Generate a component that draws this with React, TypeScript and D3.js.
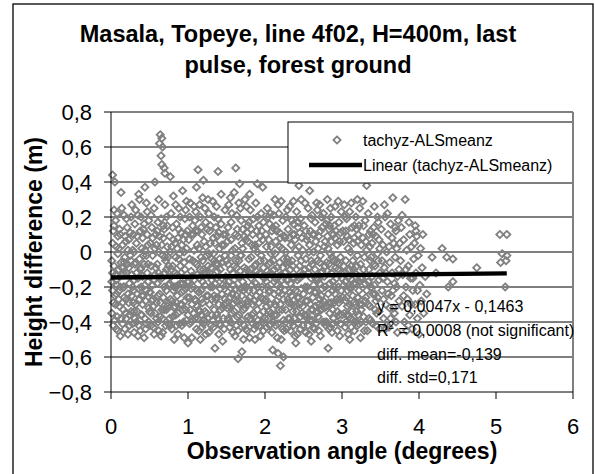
import React from "react";
import * as d3 from "d3";

const title = ["Masala, Topeye, line 4f02, H=400m, last", "pulse, forest ground"];
const xTitle = "Observation angle (degrees)";
const yTitle = "Height difference (m)";
const xTicks = [0, 1, 2, 3, 4, 5, 6];
const yTicks = [0.8, 0.6, 0.4, 0.2, 0, -0.2, -0.4, -0.6, -0.8];
const seriesName = "tachyz-ALSmeanz";
const trendName = "Linear (tachyz-ALSmeanz)";
const trendSlope = 0.0047;
const trendIntercept = -0.1463;
const annotations = [
  "y = 0,0047x - 0,1463",
  "R2 = 0,0008 (not significant)",
  "diff. mean=-0,139",
  "diff. std=0,171",
];

// [observation angle (deg), height difference (m)] — scattered outer points
const observationsOuter: [number, number][] = [
  [0.02,0.44],[0.05,0.40],[0.13,0.34],[0.01,-0.17],[0.03,-0.29],[0.02,0.05],[0.04,-0.08],[0.06,0.18],[0.08,-0.37],[0.09,-0.45],[0.11,-0.22],[0.12,0.10],[0.14,-0.13],[0.15,-0.41],[0.17,0.21],[0.18,-0.03],[0.2,-0.27],[0.21,0.14],[0.22,-0.47],[0.24,-0.18],[0.03,0.12],[0.07,-0.24],[0.1,0.02],[0.16,-0.33],[0.19,0.06],[0.23,-0.09],[0.05,-0.39],[0.13,-0.06],[0.2,0.19],[0.08,0.22],[0.11,-0.31],[0.18,-0.44],[0.01,-0.35],[0.06,-0.13],[0.14,0.25],[0.22,0.01],[0.04,0.24],[0.16,-0.2],[0.24,-0.36],[0.09,0.09],[0.12,-0.48],[0.2,-0.12],[0.02,-0.22],[0.07,0.03],[0.17,-0.26],[0.25,0.11],
  [0.26,-0.05],[0.27,0.27],[0.28,-0.41],[0.3,-0.16],[0.31,0.16],[0.32,-0.3],[0.33,0.05],[0.35,-0.48],[0.36,-0.21],[0.37,0.3],[0.38,-0.1],[0.39,0.2],[0.4,-0.36],[0.41,0.08],[0.42,-0.25],[0.44,0.37],[0.45,-0.44],[0.46,-0.02],[0.47,0.23],[0.48,-0.17],[0.49,-0.32],[0.27,-0.25],[0.29,0.1],[0.31,-0.38],[0.33,-0.12],[0.35,0.21],[0.36,0.33],[0.38,-0.45],[0.4,0.02],[0.42,0.13],[0.43,-0.07],[0.45,-0.28],[0.47,0.1],[0.49,0.18],[0.26,0.2],[0.3,-0.46],[0.34,-0.34],[0.37,-0.27],[0.41,-0.14],[0.44,-0.38],[0.46,0.28],[0.48,-0.07],[0.28,0.01],[0.32,0.24],[0.39,-0.2],[0.43,-0.49],[0.5,-0.23],
  [0.57,0.40],[0.64,0.67],[0.66,0.65],[0.63,0.62],[0.67,0.6],[0.65,0.55],[0.66,0.5],[0.69,0.48],[0.7,0.45],[0.51,0.05],[0.52,-0.35],[0.53,0.14],[0.54,-0.19],[0.55,-0.43],[0.56,0.25],[0.58,-0.09],[0.59,-0.29],[0.6,0.12],[0.61,-0.4],[0.62,0.0],[0.63,-0.24],[0.65,0.19],[0.66,-0.15],[0.67,-0.46],[0.68,0.08],[0.69,-0.33],[0.7,0.27],[0.71,-0.05],[0.72,-0.22],[0.73,0.15],[0.74,-0.41],[0.52,0.21],[0.54,-0.02],[0.56,-0.47],[0.58,0.1],[0.6,-0.18],[0.62,0.3],[0.64,-0.37],[0.66,0.04],[0.68,-0.26],[0.7,-0.12],[0.72,0.2],[0.74,-0.03],[0.53,-0.28],[0.57,-0.13],[0.61,0.17],[0.65,-0.48],[0.69,0.13],[0.73,-0.31],[0.75,-0.19],
  [0.77,0.43],[0.76,0.09],[0.77,-0.27],[0.78,0.22],[0.79,-0.44],[0.8,-0.08],[0.81,0.32],[0.82,-0.2],[0.83,0.05],[0.84,-0.36],[0.85,0.16],[0.86,-0.13],[0.87,-0.47],[0.88,0.25],[0.89,-0.01],[0.9,-0.3],[0.91,0.11],[0.92,-0.23],[0.93,0.35],[0.94,-0.4],[0.95,-0.06],[0.96,0.19],[0.97,-0.33],[0.98,0.02],[0.99,-0.17],[0.76,-0.38],[0.78,-0.14],[0.8,0.14],[0.82,-0.5],[0.84,0.27],[0.86,-0.25],[0.88,-0.04],[0.9,0.2],[0.92,-0.42],[0.94,0.07],[0.96,-0.28],[0.98,0.29],[0.79,0.03],[0.83,-0.31],[0.87,0.08],[0.91,-0.12],[0.95,-0.49],[0.99,0.12],[0.81,-0.22],[0.85,-0.42],[0.93,-0.18],[0.97,0.24],
  [1.13,0.47],[1.11,0.37],[1.2,0.41],[1.0,-0.52],[1.01,0.07],[1.02,-0.26],[1.03,0.28],[1.04,-0.11],[1.05,-0.49],[1.06,0.15],[1.07,-0.2],[1.08,0.01],[1.09,-0.38],[1.1,0.23],[1.11,-0.07],[1.12,-0.31],[1.13,0.12],[1.14,-0.45],[1.15,-0.15],[1.16,0.2],[1.17,-0.03],[1.18,-0.27],[1.19,0.31],[1.2,-0.41],[1.21,0.06],[1.22,-0.19],[1.23,0.17],[1.24,-0.35],[1.02,0.2],[1.04,-0.4],[1.06,-0.05],[1.08,0.26],[1.1,-0.28],[1.12,0.04],[1.14,-0.23],[1.16,-0.5],[1.18,0.1],[1.2,-0.1],[1.22,0.25],[1.24,-0.02],[1.03,-0.33],[1.07,0.1],[1.11,-0.44],[1.15,0.27],[1.19,-0.17],[1.23,-0.47],[1.05,-0.14],[1.09,0.18],[1.17,-0.36],[1.25,0.13],
  [1.39,0.46],[1.26,-0.08],[1.27,0.22],[1.28,-0.3],[1.29,0.05],[1.3,-0.42],[1.31,-0.16],[1.32,0.29],[1.33,-0.01],[1.34,-0.25],[1.35,-0.55],[1.36,0.14],[1.37,-0.36],[1.38,-0.11],[1.39,0.19],[1.4,-0.47],[1.41,0.02],[1.42,-0.21],[1.43,0.33],[1.44,-0.06],[1.45,-0.32],[1.46,0.1],[1.47,-0.44],[1.48,0.24],[1.49,-0.14],[1.27,-0.46],[1.29,0.15],[1.31,-0.27],[1.33,0.08],[1.35,-0.18],[1.37,0.26],[1.39,-0.38],[1.41,-0.04],[1.43,0.16],[1.45,-0.51],[1.47,0.04],[1.49,-0.29],[1.28,-0.12],[1.32,-0.39],[1.36,-0.07],[1.4,0.11],[1.44,-0.24],[1.48,-0.02],[1.26,0.3],[1.34,0.2],[1.42,-0.33],[1.5,-0.19],
  [1.62,0.48],[1.67,0.39],[1.65,-0.61],[1.7,-0.57],[1.51,0.06],[1.52,-0.23],[1.53,0.27],[1.54,-0.43],[1.55,-0.1],[1.56,0.17],[1.57,-0.35],[1.58,0.01],[1.59,-0.19],[1.6,0.34],[1.61,-0.48],[1.62,-0.05],[1.63,0.21],[1.64,-0.28],[1.65,0.09],[1.66,-0.14],[1.67,-0.4],[1.68,0.25],[1.69,-0.02],[1.7,-0.25],[1.71,0.13],[1.72,-0.5],[1.73,-0.09],[1.74,0.3],[1.52,0.14],[1.54,-0.31],[1.56,-0.02],[1.58,-0.46],[1.6,-0.16],[1.62,0.1],[1.64,-0.37],[1.66,0.28],[1.68,-0.21],[1.7,0.05],[1.72,-0.33],[1.74,-0.12],[1.53,-0.39],[1.57,0.22],[1.61,-0.27],[1.65,-0.45],[1.69,0.18],[1.73,-0.42],[1.55,0.31],[1.63,-0.09],[1.71,-0.17],[1.75,0.07],
  [1.9,0.39],[1.97,0.37],[1.8,0.33],[1.76,-0.2],[1.77,0.11],[1.78,-0.37],[1.79,-0.04],[1.8,-0.49],[1.81,0.24],[1.82,-0.15],[1.83,0.04],[1.84,-0.3],[1.85,0.19],[1.86,-0.44],[1.87,-0.08],[1.88,0.28],[1.89,-0.25],[1.9,0.0],[1.91,-0.39],[1.92,0.15],[1.93,-0.12],[1.94,-0.48],[1.95,0.22],[1.96,-0.2],[1.97,0.07],[1.98,-0.34],[1.99,-0.05],[1.76,0.26],[1.78,0.06],[1.8,-0.26],[1.82,0.13],[1.84,-0.41],[1.86,0.02],[1.88,-0.18],[1.9,0.2],[1.92,-0.29],[1.94,0.09],[1.96,-0.4],[1.98,0.17],[1.77,-0.45],[1.81,-0.1],[1.85,-0.35],[1.89,0.12],[1.93,-0.23],[1.97,-0.14],[1.79,0.17],[1.87,-0.5],[1.95,-0.02],[2.0,-0.28],
  [2.2,-0.65],[2.1,-0.56],[2.24,-0.6],[2.17,-0.58],[2.13,0.3],[2.21,0.29],[2.01,0.1],[2.02,-0.17],[2.03,0.25],[2.04,-0.38],[2.05,-0.07],[2.06,0.16],[2.07,-0.3],[2.08,0.03],[2.09,-0.46],[2.1,-0.13],[2.11,0.21],[2.12,-0.24],[2.13,-0.01],[2.14,-0.42],[2.15,0.12],[2.16,-0.19],[2.17,0.27],[2.18,-0.33],[2.19,-0.06],[2.2,0.08],[2.21,-0.5],[2.22,-0.16],[2.23,0.18],[2.24,-0.27],[2.02,-0.43],[2.04,0.2],[2.06,-0.22],[2.08,-0.01],[2.1,0.14],[2.12,-0.36],[2.14,0.06],[2.16,-0.49],[2.18,0.22],[2.2,-0.2],[2.22,0.02],[2.24,-0.39],[2.03,-0.11],[2.07,0.22],[2.11,-0.4],[2.15,-0.28],[2.19,0.11],[2.23,-0.09],[2.05,-0.34],[2.13,-0.15],[2.25,0.09],
  [2.4,-0.52],[2.37,0.29],[2.44,0.38],[2.26,-0.12],[2.27,0.2],[2.28,-0.44],[2.29,-0.04],[2.3,0.13],[2.31,-0.29],[2.32,0.26],[2.33,-0.18],[2.34,0.04],[2.35,-0.4],[2.36,-0.08],[2.37,0.16],[2.38,-0.31],[2.39,0.07],[2.4,-0.22],[2.41,0.23],[2.42,-0.47],[2.43,-0.02],[2.44,-0.26],[2.45,0.11],[2.46,-0.37],[2.47,0.3],[2.48,-0.13],[2.49,0.01],[2.27,-0.33],[2.29,0.24],[2.31,-0.06],[2.33,-0.45],[2.35,0.18],[2.37,-0.21],[2.39,-0.48],[2.41,-0.1],[2.43,0.14],[2.45,-0.3],[2.47,-0.05],[2.49,-0.42],[2.26,0.08],[2.3,-0.38],[2.34,-0.25],[2.38,0.1],[2.42,-0.16],[2.46,0.19],[2.5,-0.24],[2.28,-0.16],[2.36,-0.34],[2.44,0.03],
  [2.58,0.35],[2.63,0.42],[2.6,-0.51],[2.51,0.15],[2.52,-0.2],[2.53,-0.46],[2.54,0.07],[2.55,-0.28],[2.56,0.25],[2.57,-0.09],[2.58,-0.39],[2.59,0.12],[2.6,-0.15],[2.61,0.21],[2.62,-0.33],[2.63,0.0],[2.64,-0.44],[2.65,0.17],[2.66,-0.23],[2.67,0.28],[2.68,-0.05],[2.69,-0.37],[2.7,0.09],[2.71,-0.18],[2.72,-0.48],[2.73,0.2],[2.74,-0.11],[2.52,0.28],[2.54,-0.36],[2.56,-0.12],[2.58,0.04],[2.6,0.19],[2.62,-0.26],[2.64,0.1],[2.66,-0.41],[2.68,0.24],[2.7,-0.3],[2.72,-0.02],[2.74,0.14],[2.53,-0.04],[2.57,-0.47],[2.61,-0.07],[2.65,-0.31],[2.69,0.02],[2.73,-0.25],[2.55,0.09],[2.63,-0.19],[2.71,0.27],[2.75,-0.4],
  [2.82,-0.55],[2.76,0.22],[2.77,-0.14],[2.78,0.06],[2.79,-0.42],[2.8,-0.06],[2.81,0.3],[2.82,-0.24],[2.83,0.13],[2.84,-0.35],[2.85,-0.01],[2.86,0.2],[2.87,-0.46],[2.88,-0.17],[2.89,0.1],[2.9,-0.29],[2.91,0.26],[2.92,-0.09],[2.93,-0.4],[2.94,0.04],[2.95,-0.2],[2.96,0.17],[2.97,-0.48],[2.98,-0.03],[2.99,0.23],[2.77,-0.32],[2.79,0.16],[2.81,-0.11],[2.83,-0.44],[2.85,0.25],[2.87,-0.03],[2.89,-0.38],[2.91,0.08],[2.93,-0.15],[2.95,0.29],[2.97,-0.27],[2.99,-0.12],[2.78,-0.4],[2.82,0.02],[2.86,-0.29],[2.9,0.15],[2.94,-0.34],[2.98,0.11],[2.8,0.18],[2.88,-0.22],[2.96,-0.07],[3.0,-0.36],
  [3.15,0.44],[3.2,0.3],[3.1,-0.5],[3.24,-0.49],[3.01,0.12],[3.02,-0.19],[3.03,0.27],[3.04,-0.43],[3.05,-0.05],[3.06,0.19],[3.07,-0.31],[3.08,0.02],[3.09,-0.14],[3.1,0.23],[3.11,-0.38],[3.12,-0.08],[3.13,0.14],[3.14,-0.25],[3.15,0.05],[3.16,-0.45],[3.17,-0.12],[3.18,0.2],[3.19,-0.34],[3.2,-0.02],[3.21,0.1],[3.22,-0.22],[3.23,0.25],[3.02,0.06],[3.04,0.2],[3.06,-0.26],[3.08,-0.47],[3.1,-0.1],[3.12,0.28],[3.14,-0.39],[3.16,0.08],[3.18,-0.18],[3.2,-0.42],[3.22,0.15],[3.24,-0.07],[3.03,-0.35],[3.07,0.09],[3.11,-0.21],[3.15,-0.29],[3.19,0.13],[3.23,-0.3],[3.05,-0.4],[3.13,-0.16],[3.21,-0.36],[3.25,0.04],
  [3.32,0.38],[3.27,0.29],[3.26,-0.15],[3.27,0.08],[3.28,-0.37],[3.29,-0.03],[3.3,0.18],[3.31,-0.26],[3.32,0.01],[3.33,-0.45],[3.34,0.22],[3.35,-0.1],[3.36,-0.31],[3.37,0.12],[3.38,-0.2],[3.39,0.05],[3.4,-0.41],[3.41,-0.07],[3.42,0.26],[3.43,-0.24],[3.44,0.09],[3.45,-0.35],[3.46,-0.01],[3.47,0.17],[3.48,-0.16],[3.49,-0.44],[3.28,0.15],[3.31,-0.4],[3.34,-0.17],[3.37,-0.05],[3.4,0.1],[3.43,-0.33],[3.46,0.2],[3.49,-0.12],[3.3,-0.28],[3.36,0.03],[3.42,-0.19],[3.48,0.07],
  [3.66,0.31],[3.73,0.18],[3.51,0.13],[3.52,-0.22],[3.53,0.04],[3.54,-0.38],[3.55,-0.09],[3.56,0.2],[3.57,-0.3],[3.58,0.0],[3.59,-0.17],[3.6,0.1],[3.61,-0.43],[3.62,-0.06],[3.63,0.16],[3.64,-0.25],[3.65,-0.12],[3.67,0.05],[3.68,-0.35],[3.69,-0.03],[3.7,0.12],[3.71,-0.2],[3.72,-0.46],[3.74,-0.1],[3.53,-0.15],[3.56,-0.44],[3.59,0.22],[3.62,-0.32],[3.65,0.08],[3.68,-0.18],[3.71,0.02],[3.74,-0.28],[3.55,0.27],[3.6,-0.24],[3.7,-0.4],
  [3.82,0.3],[3.97,0.09],[3.94,0.05],[4.02,0.02],[3.99,-0.02],[4.05,0.1],[3.76,-0.05],[3.77,0.14],[3.78,-0.31],[3.79,-0.13],[3.8,0.07],[3.81,-0.4],[3.83,-0.2],[3.84,0.01],[3.85,-0.27],[3.86,-0.08],[3.87,0.17],[3.88,-0.36],[3.89,-0.15],[3.9,0.03],[3.91,-0.44],[3.92,-0.22],[3.93,-0.04],[3.95,-0.3],[3.96,-0.12],[3.98,-0.38],[4.0,-0.47],[4.01,-0.19],[4.03,-0.28],[4.04,-0.09],[4.06,-0.35],[4.08,-0.14],[4.1,-0.24],[3.78,0.21],[3.84,-0.45],[3.9,-0.3],[3.96,0.12],
  [4.17,-0.03],[4.22,-0.12],[4.3,0.02],[4.36,-0.03],[4.44,-0.04],[4.38,-0.2],[4.44,-0.17],[4.75,-0.09],[5.05,0.1],[5.14,0.1],[5.08,-0.01],[5.14,-0.02],[5.06,-0.06],[5.13,-0.05],[5.12,-0.2],
];

// dense core of the cloud
const observationsCore: [number, number][] = [
  [0.01,-0.05],[0.03,-0.42],[0.04,0.15],[0.06,-0.3],[0.07,-0.16],[0.09,-0.01],[0.1,-0.27],[0.11,0.13],[0.13,-0.38],[0.14,-0.09],[0.15,0.04],[0.17,-0.2],[0.18,0.09],[0.19,-0.35],[0.21,-0.07],[0.22,-0.24],[0.23,0.07],[0.24,-0.42],[0.08,-0.19],[0.16,-0.12],
  [0.26,-0.34],[0.27,-0.13],[0.29,-0.22],[0.3,0.0],[0.31,-0.07],[0.33,-0.4],[0.34,0.09],[0.35,-0.15],[0.37,-0.04],[0.38,0.12],[0.39,-0.36],[0.4,-0.25],[0.42,-0.02],[0.43,0.16],[0.44,-0.19],[0.46,-0.41],[0.47,-0.12],[0.48,0.04],[0.5,-0.34],[0.29,-0.29],
  [0.51,-0.23],[0.52,-0.08],[0.54,0.08],[0.55,-0.31],[0.56,-0.16],[0.57,0.02],[0.59,-0.38],[0.6,-0.07],[0.61,-0.25],[0.63,0.09],[0.64,-0.14],[0.66,-0.33],[0.67,-0.02],[0.68,0.15],[0.69,-0.2],[0.71,-0.42],[0.72,-0.1],[0.73,0.03],[0.74,-0.29],[0.62,-0.45],
  [0.76,-0.18],[0.77,0.0],[0.79,-0.28],[0.8,-0.37],[0.81,0.07],[0.83,-0.12],[0.84,-0.03],[0.85,-0.29],[0.87,-0.19],[0.88,0.13],[0.89,-0.41],[0.9,-0.08],[0.92,0.04],[0.93,-0.33],[0.94,-0.22],[0.96,-0.1],[0.97,0.1],[0.98,-0.39],[0.99,-0.26],[0.86,0.02],
  [1.01,-0.17],[1.02,-0.04],[1.04,0.1],[1.05,-0.3],[1.06,-0.39],[1.08,-0.16],[1.09,-0.06],[1.1,0.12],[1.12,-0.22],[1.13,-0.38],[1.14,0.02],[1.16,-0.1],[1.17,0.14],[1.18,-0.43],[1.19,-0.29],[1.21,-0.12],[1.22,-0.34],[1.23,0.03],[1.24,-0.25],[1.15,-0.34],
  [1.26,-0.25],[1.27,-0.01],[1.28,0.12],[1.3,-0.09],[1.31,-0.36],[1.32,-0.2],[1.33,-0.43],[1.35,0.05],[1.36,-0.27],[1.37,-0.15],[1.38,0.09],[1.4,-0.3],[1.41,-0.41],[1.42,-0.1],[1.44,0.04],[1.45,-0.19],[1.46,-0.38],[1.48,-0.27],[1.49,0.1],[1.34,-0.05],
  [1.51,-0.32],[1.52,-0.07],[1.53,-0.17],[1.55,-0.4],[1.56,0.07],[1.57,-0.24],[1.58,-0.12],[1.6,-0.34],[1.61,0.02],[1.62,-0.21],[1.63,-0.42],[1.64,0.13],[1.66,-0.05],[1.67,-0.3],[1.68,-0.11],[1.7,-0.39],[1.71,0.02],[1.72,-0.22],[1.73,0.09],[1.74,-0.32],
  [1.76,-0.1],[1.77,-0.3],[1.78,0.15],[1.79,-0.22],[1.81,-0.38],[1.82,-0.03],[1.83,-0.19],[1.84,0.1],[1.86,-0.28],[1.87,0.04],[1.88,-0.42],[1.89,-0.11],[1.91,-0.2],[1.92,0.05],[1.93,-0.36],[1.94,-0.05],[1.96,0.12],[1.97,-0.27],[1.98,-0.45],[1.99,-0.15],
  [2.01,-0.27],[2.02,0.03],[2.03,-0.2],[2.05,0.07],[2.06,-0.42],[2.07,-0.12],[2.08,-0.35],[2.09,0.12],[2.11,-0.05],[2.12,-0.17],[2.13,-0.3],[2.14,0.15],[2.16,-0.09],[2.17,-0.41],[2.18,-0.23],[2.19,0.03],[2.21,-0.13],[2.22,-0.33],[2.23,-0.44],[2.24,-0.04],
  [2.26,-0.22],[2.27,0.0],[2.28,-0.06],[2.3,-0.27],[2.31,0.08],[2.32,-0.38],[2.33,-0.1],[2.35,-0.3],[2.36,0.1],[2.37,-0.42],[2.38,-0.15],[2.4,0.01],[2.41,-0.34],[2.42,-0.26],[2.43,0.17],[2.45,-0.15],[2.46,-0.44],[2.47,-0.21],[2.48,0.08],[2.49,-0.31],
  [2.51,-0.36],[2.52,-0.1],[2.53,0.12],[2.55,-0.2],[2.56,-0.42],[2.57,0.0],[2.59,-0.3],[2.6,-0.05],[2.61,-0.39],[2.62,0.1],[2.64,-0.23],[2.65,-0.1],[2.66,0.06],[2.67,-0.35],[2.69,-0.16],[2.7,-0.45],[2.71,-0.06],[2.72,0.12],[2.73,-0.33],[2.74,-0.21],
  [2.76,-0.28],[2.77,0.03],[2.78,-0.2],[2.8,-0.31],[2.81,0.09],[2.83,-0.07],[2.84,-0.18],[2.85,-0.43],[2.86,0.06],[2.88,-0.33],[2.89,-0.05],[2.9,-0.2],[2.92,0.12],[2.93,-0.27],[2.94,-0.45],[2.95,-0.1],[2.96,-0.36],[2.97,0.06],[2.99,-0.22],[2.84,0.15],
  [3.01,-0.26],[3.02,-0.08],[3.04,-0.17],[3.05,0.12],[3.06,-0.36],[3.07,-0.22],[3.09,0.07],[3.1,-0.3],[3.11,0.0],[3.12,-0.43],[3.14,-0.05],[3.15,-0.18],[3.16,0.15],[3.17,-0.3],[3.19,-0.08],[3.2,0.06],[3.21,-0.26],[3.22,-0.41],[3.24,-0.15],[3.25,-0.33],
  [3.26,-0.3],[3.28,-0.1],[3.29,-0.45],[3.31,0.06],[3.32,-0.22],[3.34,-0.3],[3.35,0.1],[3.37,-0.39],[3.38,-0.03],[3.4,-0.24],[3.41,0.14],[3.43,-0.08],[3.44,-0.42],[3.46,-0.26],[3.47,-0.05],[3.49,0.02],
  [3.52,-0.05],[3.54,-0.27],[3.57,-0.12],[3.58,-0.42],[3.61,0.03],[3.63,-0.38],[3.66,-0.22],[3.67,-0.32],[3.69,0.14],[3.72,-0.14],[3.75,0.05],[3.8,-0.25],[3.83,-0.1],[3.86,-0.42],[3.88,0.1],[3.92,-0.15],[3.95,0.15],[3.98,-0.22],
];

// lower dense band below the trend line
const observationsLowerBand: [number, number][] = [
  [0.02,-0.12],[0.05,-0.25],[0.07,-0.44],[0.1,-0.1],[0.12,-0.2],[0.15,-0.29],[0.17,-0.06],[0.2,-0.38],[0.23,-0.29],[0.25,-0.02],
  [0.28,-0.2],[0.3,-0.34],[0.32,-0.06],[0.34,-0.24],[0.36,-0.42],[0.39,-0.09],[0.41,-0.3],[0.44,0.01],[0.46,-0.22],[0.49,-0.4],
  [0.52,-0.42],[0.54,-0.27],[0.57,-0.35],[0.59,0.04],[0.62,-0.12],[0.64,-0.29],[0.67,-0.38],[0.7,-0.03],[0.72,-0.33],[0.75,-0.08],
  [0.77,-0.42],[0.79,-0.1],[0.82,-0.32],[0.84,-0.2],[0.87,-0.35],[0.9,-0.18],[0.92,-0.3],[0.95,0.0],[0.97,-0.21],[1.0,-0.36],
  [1.02,-0.41],[1.04,-0.21],[1.07,-0.35],[1.09,-0.27],[1.12,-0.13],[1.14,-0.33],[1.17,-0.22],[1.19,-0.05],[1.21,-0.39],[1.24,-0.12],
  [1.26,-0.38],[1.29,-0.2],[1.31,-0.04],[1.34,-0.33],[1.37,-0.26],[1.39,-0.07],[1.42,-0.42],[1.44,-0.15],[1.47,-0.3],[1.5,-0.05],
  [1.52,-0.38],[1.55,-0.26],[1.58,-0.3],[1.6,-0.08],[1.63,-0.25],[1.66,-0.36],[1.68,-0.02],[1.71,-0.3],[1.73,-0.2],[1.75,-0.44],
  [1.78,-0.28],[1.8,-0.12],[1.83,-0.36],[1.85,-0.22],[1.88,-0.07],[1.9,-0.33],[1.93,-0.42],[1.95,-0.26],[1.98,-0.09],[2.0,-0.38],
  [2.02,-0.31],[2.05,-0.23],[2.07,-0.06],[2.1,-0.4],[2.12,-0.1],[2.15,-0.36],[2.18,-0.14],[2.2,-0.3],[2.22,-0.24],[2.25,-0.45],
  [2.27,-0.4],[2.3,-0.16],[2.32,-0.23],[2.35,-0.05],[2.38,-0.38],[2.4,-0.3],[2.43,-0.41],[2.45,-0.08],[2.48,-0.35],[2.5,-0.13],
  [2.53,-0.28],[2.55,-0.38],[2.58,-0.22],[2.6,-0.33],[2.63,-0.43],[2.66,-0.15],[2.68,-0.34],[2.71,-0.27],[2.73,-0.12],[2.75,-0.3],
  [2.78,-0.08],[2.8,-0.4],[2.83,-0.29],[2.86,-0.12],[2.88,-0.41],[2.91,-0.24],[2.93,-0.06],[2.96,-0.29],[2.98,-0.41],[3.0,-0.15],
  [3.03,-0.12],[3.05,-0.28],[3.08,-0.36],[3.1,-0.2],[3.13,-0.34],[3.15,-0.1],[3.18,-0.4],[3.2,-0.26],[3.23,-0.17],[3.25,-0.4],
  [3.3,-0.18],[3.35,-0.38],[3.39,-0.14],[3.44,-0.28],[3.48,-0.34],
];

const observations: [number, number][] = [...observationsOuter, ...observationsCore, ...observationsLowerBand];

const W = 595;
const H = 474;
const font = "'Liberation Sans', Arial, sans-serif";
const plot = { left: 111, right: 573, top: 112, bottom: 392 };
const markerColor = "#808080";
const markerR = 3.6;

function diamondPath(cx: number, cy: number, r: number) {
  return `M${cx},${cy - r}L${cx + r},${cy}L${cx},${cy + r}L${cx - r},${cy}Z`;
}

export default function App() {
  const x = d3.scaleLinear().domain([0, 6]).range([plot.left, plot.right]);
  const y = d3.scaleLinear().domain([-0.8, 0.8]).range([plot.bottom, plot.top]);
  const fmt = (v: number) => (Math.abs(v) < 1e-9 ? "0" : d3.format(".1f")(v).replace(".", ","));
  const xMax = d3.max(observations, (d) => d[0]) as number;
  const trend = d3
    .line<number>()
    .x((v) => x(v))
    .y((v) => y(trendSlope * v + trendIntercept));

  const legend = { x: 288, y: 122, w: plot.right - 288, h: 61 };
  const annX = 377;
  const annY = [312, 336, 360, 383];

  return (
    <svg width={W} height={H} style={{ position: "absolute", left: 0, top: 0, background: "#fff" }} fontFamily={font}>
      <rect x={0} y={0} width={W} height={H} fill="#fff" />
      <rect x={13} y={4} width={580} height={490} fill="none" stroke="#000" strokeWidth={1.3} />

      {title.map((t, i) => (
        <text key={i} x={298} y={42 + i * 31} textAnchor="middle" fontSize={23.5} fontWeight="bold">
          {t}
        </text>
      ))}

      {yTicks
        .filter((v) => v > -0.8 && v < 0.8)
        .map((v) => (
          <line key={v} x1={plot.left} x2={plot.right} y1={y(v)} y2={y(v)} stroke="#000" strokeWidth={1} />
        ))}

      <g>
        {observations.map((d, i) => (
          <path
            key={i}
            d={diamondPath(x(d[0]), y(d[1]), markerR)}
            fill="none"
            stroke={markerColor}
            strokeWidth={1.8}
          />
        ))}
      </g>

      <path d={trend([0, xMax]) || ""} stroke="#000" strokeWidth={4.5} fill="none" />

      <line x1={plot.left} x2={plot.right} y1={plot.top} y2={plot.top} stroke={markerColor} strokeWidth={2} />

      {/* legend */}
      <rect x={legend.x} y={legend.y} width={legend.w} height={legend.h} fill="#fff" stroke="#000" strokeWidth={1} />
      <path d={diamondPath(337, 140, markerR)} fill="none" stroke={markerColor} strokeWidth={1.8} />
      <text x={363} y={146} fontSize={16}>{seriesName}</text>
      <line x1={309} x2={362} y1={165} y2={165} stroke="#000" strokeWidth={4.5} />
      <text x={363} y={171} fontSize={16}>{trendName}</text>

      <line x1={plot.right} x2={plot.right} y1={plot.top} y2={plot.bottom} stroke={markerColor} strokeWidth={2} />
      <line x1={plot.left} x2={plot.left} y1={plot.top} y2={plot.bottom} stroke="#000" strokeWidth={1} />
      <line x1={plot.left} x2={plot.right} y1={plot.bottom} y2={plot.bottom} stroke="#000" strokeWidth={1} />

      {yTicks.map((v) => (
        <g key={v}>
          <line x1={plot.left - 7} x2={plot.left} y1={y(v)} y2={y(v)} stroke="#000" strokeWidth={1} />
          <text x={92} y={y(v) + 8} textAnchor="end" fontSize={22}>
            {fmt(v)}
          </text>
        </g>
      ))}
      {xTicks.map((v) => (
        <g key={v}>
          <line x1={x(v)} x2={x(v)} y1={plot.bottom} y2={plot.bottom + 7} stroke="#000" strokeWidth={1} />
          <text x={x(v)} y={434} textAnchor="middle" fontSize={22}>
            {v}
          </text>
        </g>
      ))}

      {annotations.map((a, i) =>
        a.startsWith("R2") ? (
          <text key={i} x={annX} y={annY[i]} fontSize={16}>
            R<tspan fontSize={10} dy={-7}>2</tspan>
            <tspan dy={7}>{a.slice(2)}</tspan>
          </text>
        ) : (
          <text key={i} x={annX} y={annY[i]} fontSize={16}>
            {a}
          </text>
        )
      )}

      <text x={(plot.left + plot.right) / 2} y={459} textAnchor="middle" fontSize={23} fontWeight="bold">
        {xTitle}
      </text>
      <text
        transform={`translate(42,${(plot.top + plot.bottom) / 2}) rotate(-90)`}
        textAnchor="middle"
        fontSize={23}
        fontWeight="bold"
      >
        {yTitle}
      </text>
    </svg>
  );
}
